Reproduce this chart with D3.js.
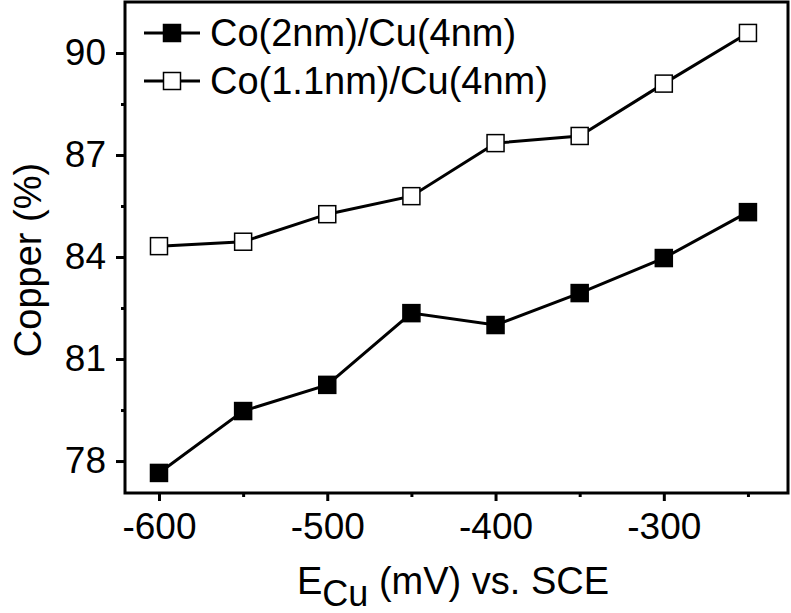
<!DOCTYPE html>
<html>
<head>
<meta charset="utf-8">
<script src="https://cdn.jsdelivr.net/npm/d3@7"></script>
<style>
  body { margin: 0; background: #fff; }
  svg { display: block; font-family: "Liberation Sans", Arial, sans-serif; }
</style>
</head>
<body>
<svg id="chart" width="791" height="613"></svg>
<script>
// potentials (mV vs. SCE)
const potentials = [-600, -550, -500, -450, -400, -350, -300, -250];
// copper content (%)
const co2nm = [77.65, 79.47, 80.24, 82.35, 82.0, 82.94, 83.97, 85.32];
const co11nm = [84.32, 84.45, 85.26, 85.79, 87.35, 87.56, 89.1, 90.59];
const seriesNames = ["Co(2nm)/Cu(4nm)", "Co(1.1nm)/Cu(4nm)"];
const xMajor = [-600, -500, -400, -300];
const xMinor = [-550, -450, -350, -250];
const yMajor = [78, 81, 84, 87, 90];
const yMinor = [79.5, 82.5, 85.5, 88.5];

const svg = d3.select("#chart");
const plot = { left: 125, right: 788, top: 2, bottom: 493 };

const x = d3.scaleLinear().domain([-620.2, -226.2]).range([plot.left, plot.right]);
const y = d3.scaleLinear().domain([77.06, 91.5]).range([plot.bottom, plot.top]);

// axes, ticks outward
const drawAxis = (axis, tr) => {
  const g = svg.append("g").attr("transform", tr).call(axis);
  g.select(".domain").remove();
  g.selectAll("line").attr("stroke", "#000").attr("stroke-width", 3);
  return g;
};

// plain hyphen minus, like the original
const fmt = d => String(d);

drawAxis(d3.axisBottom(x).tickValues(xMajor).tickSize(8).tickPadding(12).tickFormat(fmt), `translate(0,${plot.bottom})`)
  .selectAll("text").attr("font-size", 37).attr("fill", "#000");
drawAxis(d3.axisBottom(x).tickValues(xMinor).tickSize(4).tickFormat(""), `translate(0,${plot.bottom})`);

drawAxis(d3.axisLeft(y).tickValues(yMajor).tickSize(9).tickPadding(10).tickFormat(fmt), `translate(${plot.left},0)`)
  .selectAll("text").attr("font-size", 37).attr("fill", "#000");
drawAxis(d3.axisLeft(y).tickValues(yMinor).tickSize(4).tickFormat(""), `translate(${plot.left},0)`);

// frame
svg.append("rect")
  .attr("x", plot.left).attr("y", plot.top)
  .attr("width", plot.right - plot.left).attr("height", plot.bottom - plot.top)
  .attr("fill", "none").attr("stroke", "#000").attr("stroke-width", 3);

// series
const line = d3.line().x(d => x(d[0])).y(d => y(d[1]));
const series = [
  { name: seriesNames[0], vals: co2nm, fill: "#000" },
  { name: seriesNames[1], vals: co11nm, fill: "#fff" }
];
const ms = 17;
series.forEach(s => {
  const pts = potentials.map((p, i) => [p, s.vals[i]]);
  svg.append("path").datum(pts)
    .attr("d", line).attr("fill", "none")
    .attr("stroke", "#000").attr("stroke-width", 3);
  svg.append("g").selectAll("rect").data(pts).join("rect")
    .attr("x", d => x(d[0]) - ms / 2).attr("y", d => y(d[1]) - ms / 2)
    .attr("width", ms).attr("height", ms)
    .attr("fill", s.fill).attr("stroke", "#000").attr("stroke-width", 1.5);
});

// legend
const legend = svg.append("g");
series.forEach((s, i) => {
  const ly = 33 + i * 48;
  legend.append("line").attr("x1", 144).attr("x2", 200).attr("y1", ly).attr("y2", ly)
    .attr("stroke", "#000").attr("stroke-width", 3);
  legend.append("rect").attr("x", 172 - ms / 2).attr("y", ly - ms / 2)
    .attr("width", ms).attr("height", ms)
    .attr("fill", s.fill).attr("stroke", "#000").attr("stroke-width", 1.5);
  legend.append("text").attr("x", 210).attr("y", ly + 13)
    .attr("font-size", 38).text(s.name);
});

// axis titles
const xt = svg.append("text").attr("x", 297).attr("y", 594).attr("font-size", 38);
xt.append("tspan").text("E");
xt.append("tspan").attr("dy", 12).attr("font-size", 36).text("Cu");
xt.append("tspan").attr("dy", -12).text(" (mV) vs. SCE");

svg.append("text")
  .attr("transform", "translate(41,260) rotate(-90)")
  .attr("text-anchor", "middle").attr("font-size", 38)
  .text("Copper (%)");
</script>
</body>
</html>
